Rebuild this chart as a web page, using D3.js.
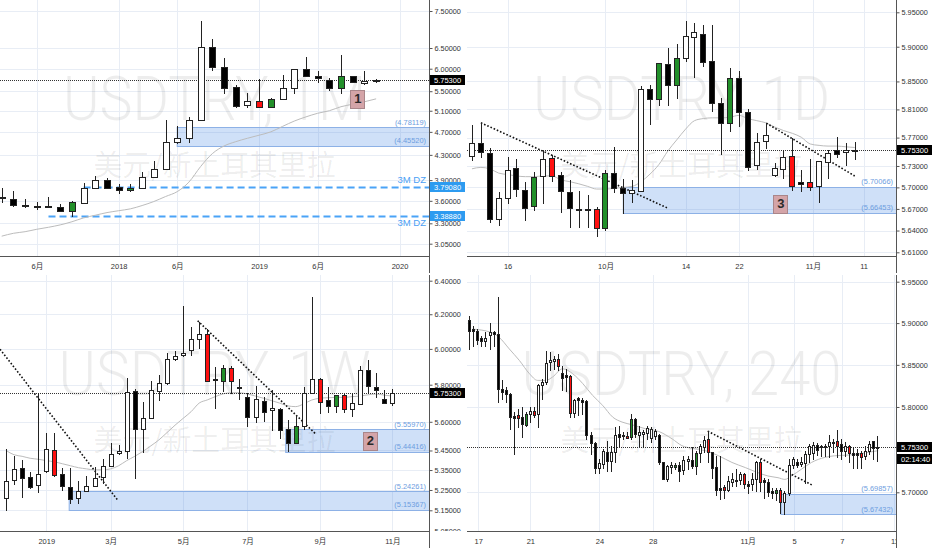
<!DOCTYPE html>
<html><head><meta charset="utf-8">
<script src="https://cdn.jsdelivr.net/npm/d3@7"></script>
<style>
html,body{margin:0;padding:0;background:#fff;}
svg{display:block;}
text{font-family:"Liberation Sans","Noto Sans CJK SC",Arial,sans-serif;}
</style></head><body>
<svg id="c" width="932" height="550"></svg>
<script>
// ================= DATA =================
const lastPrice = 5.753;
const subTitle = "美元/新土耳其里拉";

// ---- Panel 1: monthly ----  [open, high, low, close]
const p1Title = "USDTRY, 1M";
const p1Ohlc = [
[3.65,3.78,3.59,3.64],[3.62,3.745,3.53,3.54],[3.545,3.625,3.52,3.525],[3.53,3.59,3.485,3.525],
[3.525,3.65,3.51,3.52],[3.51,3.55,3.46,3.46],[3.46,3.60,3.39,3.58],[3.565,3.85,3.565,3.79],
[3.79,3.96,3.79,3.90],[3.895,3.93,3.78,3.79],[3.80,3.84,3.715,3.76],[3.755,3.84,3.74,3.79],
[3.79,4.03,3.79,3.94],[3.94,4.195,3.94,4.065],[4.065,4.93,4.065,4.525],[4.525,4.80,4.51,4.585],
[4.59,4.98,4.525,4.92],[4.93,7.22,4.93,6.53],[6.53,6.74,5.97,6.05],[6.05,6.26,5.46,5.57],
[5.58,5.63,5.17,5.19],[5.22,5.46,5.17,5.29],[5.29,5.76,5.17,5.17],[5.17,5.35,5.17,5.34],
[5.34,5.855,5.34,5.56],[5.56,6.0,5.46,5.99],[5.985,6.27,5.83,5.83],[5.84,5.95,5.70,5.79],
[5.75,5.78,5.525,5.57],[5.57,6.33,5.46,5.835],[5.835,5.84,5.69,5.69],[5.67,5.95,5.66,5.72],
[5.72,5.765,5.71,5.753]];
const p1Ma = [3.14,3.175,3.195,3.225,3.25,3.28,3.32,3.37,3.405,3.44,3.465,3.49,3.535,3.59,3.66,3.73,3.87,4.11,4.32,4.45,4.525,4.585,4.64,4.70,4.80,4.90,4.98,5.05,5.10,5.18,5.23,5.28,5.34];
const p1Green = [6,11,23,29];
const p1Red = [22];
const p1TimeIdx = [3,10,15,22,27,34];
const p1TimeLbl = ["6月","2018","6月","2019","6月","2020"];
const p1PriceTicks = [3.05,3.3,3.6,3.9,4.3,4.7,5.1,5.5,6.0,6.5,7.5];
const p1Zones = [[15,4.78119,4.45520]];
const p1Levels = [[7,3.79080,"3M DZ"],[4,3.38880,"3M DZ"]];
const p1Trend = [];
const p1Badge = [30.4,5.34,"1"];

// ---- Panel 2: daily ----
const p2Title = "USDTRY, 1D";
const p2Ohlc = [
[5.744,5.788,5.739,5.763],[5.763,5.791,5.743,5.749],[5.748,5.756,5.652,5.6555],[5.6555,5.6936,5.648,5.685],
[5.6845,5.743,5.6786,5.725],[5.7276,5.740,5.6877,5.6977],[5.697,5.707,5.655,5.6719],[5.674,5.721,5.6686,5.715],
[5.7164,5.7514,5.678,5.7395],[5.7414,5.745,5.709,5.716],[5.7178,5.721,5.666,5.6943],[5.694,5.7106,5.6446,5.6706],
[5.670,5.6945,5.6446,5.668],[5.6695,5.689,5.6446,5.668],[5.6695,5.672,5.633,5.6437],[5.6437,5.724,5.641,5.7195],
[5.720,5.757,5.693,5.699],[5.699,5.712,5.6645,5.692],[5.692,5.7106,5.679,5.6966],[5.6943,5.844,5.6943,5.8393],
[5.839,5.845,5.789,5.825],[5.825,5.876,5.817,5.876],[5.875,5.898,5.816,5.845],[5.845,5.904,5.826,5.883],
[5.883,5.938,5.880,5.916],[5.9145,5.934,5.857,5.921],[5.918,5.932,5.872,5.878],[5.880,5.932,5.808,5.819],
[5.819,5.827,5.7465,5.7905],[5.790,5.869,5.780,5.855],[5.855,5.8645,5.787,5.8057],[5.8057,5.8105,5.7245,5.728],
[5.731,5.7772,5.7259,5.7642],[5.765,5.7905,5.7558,5.7733],[5.7174,5.734,5.716,5.7278],[5.7255,5.7523,5.7136,5.743],
[5.744,5.769,5.6968,5.7023],[5.707,5.725,5.6954,5.7045],[5.708,5.740,5.6968,5.700],[5.7014,5.737,5.680,5.7363],
[5.736,5.7523,5.713,5.7476],[5.7523,5.771,5.7433,5.7467],[5.749,5.762,5.731,5.7523],[5.7515,5.7642,5.740,5.753]];
const p2Ma = [5.726,5.728,5.726,5.720,5.718,5.716,5.715,5.715,5.716,5.716,5.7105,5.708,5.705,5.7014,5.6977,5.6977,5.6986,5.700,5.7014,5.708,5.7186,5.732,5.751,5.7667,5.782,5.794,5.797,5.798,5.798,5.799,5.8015,5.797,5.794,5.791,5.785,5.780,5.776,5.7705,5.761,5.759,5.758,5.758,5.757,5.756];
const p2Green = [7,15,21,23,29];
const p2Red = [9,14,36,38];
const p2TimeIdx = [4,15,24,30,38.3,44];
const p2TimeLbl = ["16","10月","14","22","11月","11"];
const p2PriceTicks = [5.61,5.64,5.67,5.70,5.73,5.77,5.81,5.85,5.90,5.95];
const p2Zones = [[17,5.70066,5.66453]];
const p2Levels = [];
const p2Trend = [[1,5.791,22.1,5.6705],[33.07,5.7905,43,5.716]];
const p2Badge = [34.66,5.677,"3"];

// ---- Panel 3: weekly ----
const p3Title = "USDTRY, 1W";
const p3Ohlc = [
[5.21,5.457,5.150,5.293],[5.301,5.42,5.281,5.356],[5.362,5.402,5.215,5.31],[5.314,5.339,5.26,5.265],
[5.276,5.754,5.24,5.33],[5.346,5.543,5.339,5.457],[5.453,5.543,5.32,5.326],[5.331,5.359,5.25,5.272],
[5.265,5.362,5.186,5.206],[5.21,5.293,5.186,5.243],[5.247,5.32,5.245,5.268],[5.272,5.367,5.268,5.31],
[5.316,5.405,5.285,5.372],[5.372,5.487,5.372,5.433],[5.437,5.478,5.43,5.448],[5.445,5.835,5.41,5.762],
[5.766,5.775,5.31,5.564],[5.564,5.705,5.44,5.62],[5.62,5.82,5.62,5.771],[5.767,5.853,5.717,5.807],
[5.807,5.974,5.805,5.941],[5.941,5.988,5.935,5.961],[5.963,6.25,5.96,5.978],[5.994,6.128,5.966,6.054],
[6.054,6.153,6.004,6.084],[6.084,6.114,5.82,5.82],[5.831,5.90,5.672,5.825],[5.822,5.909,5.766,5.895],
[5.895,5.903,5.753,5.822],[5.783,5.83,5.72,5.79],[5.735,5.753,5.576,5.625],[5.625,5.793,5.60,5.721],
[5.712,5.735,5.603,5.654],[5.663,5.771,5.557,5.672],[5.667,5.672,5.514,5.557],[5.56,5.61,5.448,5.487],
[5.49,5.631,5.487,5.576],[5.576,5.789,5.564,5.753],[5.756,6.301,5.756,5.829],[5.829,5.838,5.645,5.708],
[5.717,5.789,5.65,5.685],[5.687,5.744,5.654,5.744],[5.744,5.75,5.65,5.669],[5.667,5.756,5.631,5.70],
[5.696,5.903,5.696,5.881],[5.881,5.937,5.753,5.793],[5.789,5.866,5.731,5.771],[5.721,5.771,5.70,5.70],
[5.702,5.775,5.69,5.753]];
const p3Ma = [5.45,5.428,5.42,5.41,5.405,5.398,5.392,5.382,5.372,5.362,5.356,5.351,5.351,5.356,5.372,5.398,5.42,5.445,5.474,5.505,5.543,5.582,5.618,5.654,5.70,5.717,5.735,5.75,5.756,5.756,5.749,5.738,5.726,5.713,5.70,5.685,5.681,5.696,5.717,5.726,5.729,5.731,5.731,5.735,5.738,5.745,5.749,5.743,5.738];
const p3Green = [27,36,41];
const p3Red = [6,25,28,39,42];
const p3TimeIdx = [5,13,22,30,39,48];
const p3TimeLbl = ["2019","3月","5月","7月","9月","11月"];
const p3PriceTicks = [5.05,5.15,5.25,5.35,5.45,5.60,5.80,6.00,6.20,6.40];
const p3Zones = [[7.85,5.24261,5.15367],[34.75,5.55970,5.44416]];
const p3Levels = [];
const p3Trend = [[-0.745,5.998,13.83,5.202],[23.81,6.162,38.47,5.536]];
const p3Badge = [45.2,5.50,"2"];

// ---- Panel 4: 240 minutes ----
const p4Title = "USDTRY, 240";
const p4Ohlc = [
[5.9038,5.9086,5.869,5.8908],[5.893,5.897,5.873,5.8905],[5.890,5.893,5.875,5.880],[5.8817,5.884,5.873,5.8785],
[5.878,5.889,5.872,5.882],[5.886,5.900,5.869,5.8888],[5.8888,5.891,5.873,5.8868],[5.887,5.932,5.806,5.821],
[5.821,5.832,5.810,5.8177],[5.820,5.824,5.806,5.815],[5.815,5.816,5.774,5.788],[5.789,5.794,5.745,5.787],
[5.790,5.798,5.776,5.787],[5.788,5.800,5.7644,5.780],[5.779,5.794,5.778,5.792],[5.792,5.800,5.782,5.795],
[5.795,5.800,5.788,5.791],[5.792,5.8276,5.776,5.8264],[5.8264,5.8335,5.810,5.8296],[5.8296,5.867,5.8276,5.852],
[5.8533,5.865,5.8434,5.856],[5.8544,5.861,5.8454,5.857],[5.857,5.863,5.8434,5.849],[5.8406,5.849,5.8197,5.8347],
[5.8375,5.8454,5.8185,5.8355],[5.8363,5.8375,5.788,5.7928],[5.7928,5.8098,5.788,5.8086],[5.811,5.8118,5.790,5.8078],
[5.8086,5.811,5.792,5.806],[5.807,5.8078,5.7624,5.767],[5.767,5.770,5.745,5.7577],[5.7577,5.7585,5.723,5.728],
[5.7288,5.7387,5.723,5.7336],[5.7328,5.7506,5.7288,5.7486],[5.7474,5.7604,5.725,5.737],[5.737,5.7545,5.725,5.7466],
[5.7466,5.7762,5.7348,5.767],[5.7683,5.778,5.7545,5.765],[5.7656,5.770,5.7624,5.767],[5.7663,5.770,5.7632,5.764],
[5.7644,5.792,5.7624,5.7853],[5.7861,5.787,5.7644,5.7683],[5.767,5.778,5.7545,5.7703],[5.7687,5.7723,5.7525,5.771],
[5.7695,5.778,5.7624,5.775],[5.7632,5.776,5.7585,5.774],[5.7656,5.774,5.7624,5.772],[5.767,5.768,5.7328,5.7348],
[5.7348,5.7356,5.715,5.7158],[5.7158,5.7316,5.713,5.7308],[5.7296,5.7348,5.7229,5.7316],[5.7296,5.734,5.7268,5.732],
[5.732,5.7348,5.713,5.725],[5.7257,5.7426,5.721,5.7375],[5.736,5.7426,5.7268,5.7387],[5.738,5.7525,5.7288,5.7308],
[5.7308,5.7486,5.721,5.7454],[5.7454,5.7565,5.7348,5.7545],[5.7525,5.7663,5.7466,5.7612],[5.7624,5.7711,5.7348,5.7474],
[5.7466,5.7474,5.717,5.7288],[5.73,5.7426,5.6972,5.7032],[5.7052,5.7426,5.692,5.7024],[5.706,5.709,5.6933,5.7024],
[5.7032,5.719,5.7012,5.713],[5.7118,5.7229,5.7071,5.715],[5.7138,5.7268,5.7071,5.7126],[5.7138,5.7237,5.7091,5.721],
[5.721,5.7229,5.7052,5.7091],[5.7091,5.713,5.6992,5.7071],[5.7091,5.7229,5.7032,5.7158],[5.7158,5.7367,5.7012,5.7355],
[5.7348,5.7387,5.7012,5.7118],[5.7142,5.717,5.6933,5.7118],[5.7118,5.715,5.6952,5.6999],[5.7012,5.7052,5.6933,5.6992],
[5.6992,5.7052,5.6913,5.7032],[5.7024,5.7052,5.6755,5.6893],[5.6893,5.7012,5.6743,5.6992],[5.6992,5.7387,5.6972,5.7316],
[5.7316,5.7407,5.7288,5.7387],[5.7348,5.7387,5.73,5.732],[5.7328,5.7407,5.7308,5.7348],[5.734,5.7486,5.7111,5.7446],
[5.7446,5.7565,5.7348,5.7545],[5.7458,5.7585,5.7387,5.7553],[5.7553,5.7577,5.7434,5.7498],[5.7533,5.7553,5.7426,5.7545],
[5.7537,5.7561,5.7426,5.7545],[5.7545,5.7671,5.7407,5.7585],[5.7592,5.7624,5.7466,5.7577],[5.7604,5.7723,5.7407,5.7537],
[5.7565,5.7624,5.7387,5.7486],[5.7486,5.7585,5.7426,5.7545],[5.7545,5.7553,5.7348,5.7458],[5.7458,5.7525,5.7288,5.7438],
[5.7454,5.7506,5.7288,5.7434],[5.7454,5.7486,5.7288,5.7407],[5.7419,5.7545,5.7387,5.7486],[5.7478,5.7604,5.7446,5.7565],
[5.7596,5.7604,5.7387,5.7513],[5.7525,5.7663,5.7367,5.753]];
// moving average read at [bar index, value]
const p4Ma = [[0.8,5.8928],[5.4,5.8888],[7.4,5.8829],[9.9,5.869],[12.4,5.8552],[14.9,5.8394],[16.9,5.8315],[19,5.8315],[20.6,5.8355],[23.1,5.8453],[25.6,5.8394],[28.1,5.8276],[30.5,5.8138],[33,5.8019],[35.5,5.788],[37.8,5.7822],[40.3,5.779],[43.6,5.7743],[46.9,5.7711],[50.2,5.7624],[52.6,5.7545],[55.1,5.7513],[58.4,5.7486],[61.7,5.7426],[65,5.7348],[68.3,5.7288],[70.8,5.724],[73.9,5.719],[76.4,5.717],[78.1,5.715],[79.7,5.719],[82.2,5.7269],[84.7,5.7348],[88,5.7407],[90.4,5.7426],[93.7,5.7434],[96.2,5.7446],[98.7,5.7466],[101.2,5.7486]];
const p4Green = [14,40,51,56,76];
const p4Red = [12,16,22,25,39,59,63,68,72,77,91,94,97];
const p4TimeIdx = [2.2,15.1,32.2,45.4,68.9,80.4,92.2,105.2];
const p4TimeLbl = ["17","21","24","28","11月","5","7","11"];
const p4PriceTicks = [5.70,5.80,5.85,5.90,5.95];
const p4Zones = [[77.15,5.69857,5.67432]];
const p4Levels = [];
const p4Trend = [[59,5.7715,85,5.708]];
const p4Badge = null;
const p4Countdown = "02:14:40";

// ================= LAYOUT =================
const PLOT_W = 429, AXIS_W = 36, PLOT_H = 256, PANEL_H = 273;
const GRID = "#e8edf5";
const fmt5 = d3.format(".5f");
const svg = d3.select("#c");

const panels = [
  {id:1, ox:0, oy:0, title:p1Title, tw:303, ohlc:p1Ohlc, ma:p1Ma.map((v,i)=>[i,v]), green:p1Green, red:p1Red,
   tIdx:p1TimeIdx, tLbl:p1TimeLbl, ticks:p1PriceTicks, zones:p1Zones, levels:p1Levels, levelPos:["above","below"],
   trend:p1Trend, badge:p1Badge, xView:[-0.145,36.52], yDom:[3.05,7.5], yRng:[243.7,11]},
  {id:2, ox:467, oy:0, title:p2Title, tw:297, ohlc:p2Ohlc, ma:p2Ma.map((v,i)=>[i,v]), green:p2Green, red:p2Red,
   tIdx:p2TimeIdx, tLbl:p2TimeLbl, ticks:p2PriceTicks, zones:p2Zones, levels:p2Levels, levelPos:[],
   trend:p2Trend, badge:p2Badge, xView:[-0.56,47.64], yDom:[5.61,5.95], yRng:[252.3,12.3]},
  {id:3, ox:0, oy:275, title:p3Title, tw:312, ohlc:p3Ohlc, ma:p3Ma.map((v,i)=>[i,v]), green:p3Green, red:p3Red,
   tIdx:p3TimeIdx, tLbl:p3TimeLbl, ticks:p3PriceTicks, zones:p3Zones, levels:p3Levels, levelPos:[],
   trend:p3Trend, badge:p3Badge, xView:[-0.745,52.55], yDom:[5.15,6.4], yRng:[235.3,5.7]},
  {id:4, ox:467, oy:275, title:p4Title, tw:320, ohlc:p4Ohlc, ma:p4Ma, green:p4Green, red:p4Red,
   tIdx:p4TimeIdx, tLbl:p4TimeLbl, ticks:p4PriceTicks, zones:p4Zones, levels:p4Levels, levelPos:[],
   trend:p4Trend, badge:p4Badge, xView:[-0.57,105.6], yDom:[5.70,5.95], yRng:[217.3,6.7], countdown:p4Countdown}
];

panels.forEach(drawPanel);

function drawPanel(cfg){
  const g = svg.append("g").attr("transform",`translate(${cfg.ox},${cfg.oy})`);
  const x = d3.scaleLinear().domain(cfg.xView).range([0,PLOT_W]);
  const y = d3.scaleLog().domain(cfg.yDom).range(cfg.yRng);
  const cid = "clip"+cfg.id;
  g.append("clipPath").attr("id",cid).append("rect").attr("width",PLOT_W).attr("height",PLOT_H);
  const plot = g.append("g").attr("clip-path",`url(#${cid})`);
  const px = v => Math.round(v)+0.5;

  // grid
  plot.append("g").selectAll("line").data(cfg.ticks).join("line")
    .attr("x1",0).attr("x2",PLOT_W).attr("y1",d=>px(y(d))).attr("y2",d=>px(y(d)))
    .attr("stroke",GRID).attr("stroke-width",1);
  plot.append("g").selectAll("line").data(cfg.tIdx).join("line")
    .attr("x1",d=>px(x(d))).attr("x2",d=>px(x(d))).attr("y1",0).attr("y2",PLOT_H)
    .attr("stroke",GRID).attr("stroke-width",1);

  // watermark
  plot.append("text").attr("x",PLOT_W/2).attr("y",120).attr("text-anchor","middle")
    .attr("font-size",62).attr("font-weight",300).style("font-family","Roboto,'Liberation Sans',sans-serif")
    .attr("textLength",cfg.tw).attr("lengthAdjust","spacingAndGlyphs")
    .attr("fill","#000").attr("fill-opacity",0.07).text(cfg.title);
  plot.append("text").attr("x",PLOT_W/2).attr("y",176).attr("text-anchor","middle")
    .attr("font-size",29).style("font-family","'Noto Sans CJK SC',sans-serif")
    .attr("textLength",242).attr("lengthAdjust","spacingAndGlyphs")
    .attr("fill","#000").attr("fill-opacity",0.07).text(subTitle);

  // zones
  plot.append("g").selectAll("rect").data(cfg.zones).join("rect")
    .attr("x",d=>x(d[0])).attr("width",d=>PLOT_W-x(d[0])+2)
    .attr("y",d=>px(y(d[1]))).attr("height",d=>Math.round(y(d[2]))-Math.round(y(d[1])))
    .attr("fill","rgb(63,131,227)").attr("fill-opacity",0.25)
    .attr("stroke","#8db1e6").attr("stroke-width",1);

  // horizontal levels (dashed)
  plot.append("g").selectAll("line").data(cfg.levels).join("line")
    .attr("x1",d=>x(d[0])).attr("x2",PLOT_W).attr("y1",d=>y(d[1])).attr("y2",d=>y(d[1]))
    .attr("stroke","#4aa3f7").attr("stroke-width",2).attr("stroke-dasharray","7,4");

  // moving average
  const line = d3.line().x(d=>x(d[0])).y(d=>y(d[1])).curve(d3.curveMonotoneX);
  plot.append("path").attr("d",line(cfg.ma)).attr("fill","none").attr("stroke","#bcbcbc").attr("stroke-width",1);

  // last price line
  plot.append("line").attr("x1",0).attr("x2",PLOT_W).attr("y1",px(y(lastPrice))).attr("y2",px(y(lastPrice)))
    .attr("stroke","#333").attr("stroke-width",1).attr("stroke-dasharray","1,1");

  // trend lines
  plot.append("g").selectAll("line").data(cfg.trend).join("line")
    .attr("x1",d=>x(d[0])).attr("y1",d=>y(d[1])).attr("x2",d=>x(d[2])).attr("y2",d=>y(d[3]))
    .attr("stroke","#111").attr("stroke-width",1.6).attr("stroke-dasharray","1.6,1.9");

  // candles
  const step = Math.abs(x(1)-x(0));
  const bw = Math.max(3, Math.round(step*0.64));
  const gs = new Set(cfg.green), rs = new Set(cfg.red);
  const fillOf = (d,i)=>{
    const up = d[3]>=d[0];
    if (gs.has(i)) return "#22902a";
    if (rs.has(i)) return "#ff1010";
    return up ? "#ffffff" : "#000000";
  };
  const cg = plot.append("g");
  cg.selectAll("line").data(cfg.ohlc).join("line")
    .attr("x1",(d,i)=>px(x(i))).attr("x2",(d,i)=>px(x(i)))
    .attr("y1",d=>Math.round(y(d[1]))).attr("y2",d=>Math.round(y(d[2]))+1)
    .attr("stroke","#222").attr("stroke-width",1);
  cg.selectAll("rect").data(cfg.ohlc).join("rect")
    .attr("x",(d,i)=>Math.round(x(i))-Math.floor(bw/2)+0.5).attr("width",bw-1)
    .attr("y",d=>px(y(Math.max(d[0],d[3]))))
    .attr("height",d=>Math.max(1,Math.round(y(Math.min(d[0],d[3])))-Math.round(y(Math.max(d[0],d[3])))))
    .attr("fill",fillOf).attr("stroke","#222").attr("stroke-width",1);

  // numbered badge
  if (cfg.badge){
    const bx = x(cfg.badge[0]), by = y(cfg.badge[1]);
    plot.append("rect").attr("x",Math.round(bx-7)+0.5).attr("y",Math.round(by-9)+0.5).attr("width",14).attr("height",18)
      .attr("fill","#d4a4a8").attr("stroke","#a9868a").attr("stroke-width",1);
    plot.append("text").attr("x",bx+0.5).attr("y",by+4.5).attr("text-anchor","middle")
      .attr("font-size",13).attr("font-weight","bold").attr("fill","#2a2a2a").text(cfg.badge[2]);
  }

  // zone price labels
  const zl = [];
  cfg.zones.forEach(z=>{ zl.push(z[1]); zl.push(z[2]); });
  plot.append("g").selectAll("text").data(zl).join("text")
    .attr("x",PLOT_W-3).attr("y",d=>y(d)-2.5).attr("text-anchor","end")
    .attr("font-size",7.4).attr("fill","#6d9de0").text(d=>"("+fmt5(d)+")");

  // level labels
  plot.append("g").selectAll("text").data(cfg.levels).join("text")
    .attr("x",PLOT_W-3).attr("y",(d,i)=> cfg.levelPos[i]==="above" ? y(d[1])-4 : y(d[1])+10)
    .attr("text-anchor","end").attr("font-size",9.5).attr("fill","#4a9ff5").text(d=>d[2]);

  // time axis
  const xa = d3.axisBottom(x).tickValues(cfg.tIdx).tickFormat((d,i)=>cfg.tLbl[i]).tickSize(0).tickPadding(7.5);
  const xg = g.append("g").attr("transform",`translate(0,${PLOT_H+0.5})`).call(xa);
  xg.select(".domain").attr("stroke","#555").attr("d",`M0,0H${PLOT_W}`);
  xg.selectAll("text").attr("font-size",7.5).attr("fill","#333")
    .style("font-family","'Liberation Sans','Noto Sans CJK SC',sans-serif");

  // price axis background + axis
  g.append("rect").attr("x",PLOT_W+0.5).attr("y",0).attr("width",AXIS_W).attr("height",PANEL_H).attr("fill","#fff");
  const acid = "aclip"+cfg.id;
  g.append("clipPath").attr("id",acid).append("rect").attr("x",-1).attr("y",0).attr("width",AXIS_W+2).attr("height",PLOT_H);
  const ya = d3.axisRight(y).tickValues(cfg.ticks).tickFormat(fmt5).tickSize(3).tickPadding(2);
  const yg = g.append("g").attr("transform",`translate(${PLOT_W+0.5},0)`).attr("clip-path",`url(#${acid})`).call(ya);
  yg.select(".domain").remove();
  yg.selectAll(".tick line").attr("stroke","#555");
  yg.selectAll("text").attr("font-size",7.3).attr("fill","#333");
  g.append("line").attr("x1",PLOT_W+0.5).attr("x2",PLOT_W+0.5).attr("y1",0).attr("y2",PANEL_H)
    .attr("stroke","#555").attr("stroke-width",1);

  // tags on price axis
  const tag = (price, label, fill, dy) => {
    const yy = Math.round(y(price)) + (dy||0);
    g.append("rect").attr("x",PLOT_W+1).attr("y",yy-5).attr("width",AXIS_W-1).attr("height",10).attr("fill",fill);
    g.append("text").attr("x",PLOT_W+5).attr("y",yy+2.6).attr("font-size",7.5).attr("fill","#fff").text(label);
  };
  cfg.levels.forEach(l=>tag(l[1], fmt5(l[1]), "#2d9bf0"));
  tag(lastPrice, fmt5(lastPrice), "#000");
  if (cfg.countdown) tag(lastPrice, cfg.countdown, "#000", 12);
}
</script></body></html>
